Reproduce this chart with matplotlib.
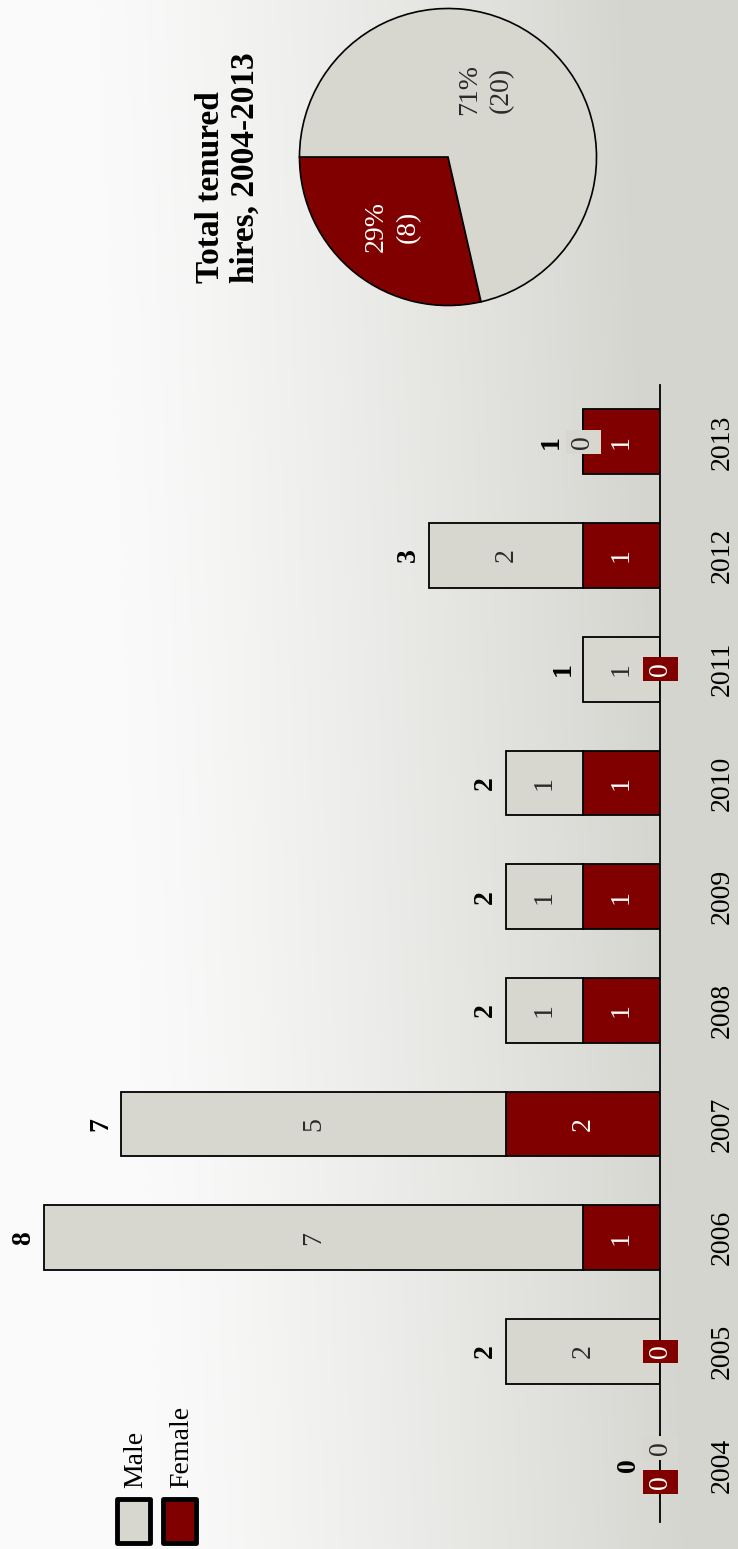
import numpy as np
import matplotlib.pyplot as plt
from matplotlib.patches import Rectangle

years = ["2004", "2005", "2006", "2007", "2008", "2009", "2010", "2011", "2012", "2013"]
female = [0, 0, 1, 2, 1, 1, 1, 0, 1, 1]
male = [0, 2, 7, 5, 1, 1, 1, 1, 2, 0]
pie_counts = [8, 20]          # female, male
pie_pct = ["29%", "71%"]

male_col = "#d7d7d0"
female_col = "#800000"

plt.rcParams["font.family"] = ["Liberation Serif", "DejaVu Serif"]

W, H = 738, 1549
fig = plt.figure(figsize=(W / 100, H / 100), dpi=100)

# grey gradient background, white on the left fading to grey on the right
bg = fig.add_axes([0, 0, 1, 1], zorder=-10)
xx, yy = np.meshgrid(np.linspace(0, 1, 300), np.linspace(1, 0, 600))
t = np.clip((xx - 0.22) / 0.72 + 0.12 * yy, 0, 1) ** 1.2
c0 = np.array([250, 250, 250]) / 255
c1 = np.array([213, 213, 208]) / 255
img = c0 + (c1 - c0) * t[..., None]
bg.imshow(img, aspect="auto", extent=[0, 1, 0, 1], interpolation="bilinear")
bg.axis("off")

fs = 20

# stacked bars, drawn sideways so the value grows to the left
ax = fig.add_axes([10 / W, 1 - 1522 / H, 650 / W, (1522 - 385) / H])
ax.patch.set_alpha(0)
pos = np.arange(len(years))
ax.barh(pos, female, height=0.57, color=female_col, edgecolor="black", linewidth=1.3)
ax.barh(pos, male, left=female, height=0.57, color=male_col, edgecolor="black", linewidth=1.3)
ax.set_xlim(0, 650 / 77)
ax.invert_xaxis()
ax.set_ylim(-0.5, len(years) - 0.5)
for s in ["left", "top", "bottom"]:
    ax.spines[s].set_visible(False)
ax.spines["right"].set_linewidth(1.3)
ax.set_xticks([])
ax.yaxis.tick_right()
ax.set_yticks(pos)
ax.set_yticklabels(years, rotation=90, va="center", ha="left", fontsize=fs)
ax.tick_params(axis="y", length=0, pad=36)

box = dict(boxstyle="square,pad=0.18", ec="none")
for i in pos:
    f, m = female[i], male[i]
    both_zero = f == 0 and m == 0
    # female segment label
    if f > 0:
        ax.text(f / 2, i, str(f), rotation=90, ha="center", va="center", color="white", fontsize=fs)
    else:
        dy = -0.15 if both_zero else 0
        ax.text(0, i + dy, "0", rotation=90, ha="center", va="center", color="white", fontsize=fs,
                bbox=dict(box, fc=female_col))
    # male segment label
    if m > 0:
        ax.text(f + m / 2, i, str(m), rotation=90, ha="center", va="center", color="#2a2a2a", fontsize=fs)
    else:
        dy = 0.15 if both_zero else 0
        ax.text(f, i + dy, "0", rotation=90, ha="center", va="center", color="#2a2a2a", fontsize=fs,
                bbox=dict(box, fc=male_col))
    # total above the bar
    tot = f + m
    gap = 0.1 if tot > 0 and not (m == 0) else 0.25
    ax.text(tot + gap, i, str(tot), rotation=90, ha="right", va="center",
            fontsize=fs, fontweight="bold")

# pie of the totals
pax = fig.add_axes([298 / W, 1 - 307 / H, 300 / W, 300 / H])
pax.patch.set_alpha(0)
wedges, _ = pax.pie(pie_counts, colors=[female_col, male_col], startangle=180, counterclock=True,
                    wedgeprops=dict(edgecolor="black", linewidth=1.2))
for w, n, p, col, d in zip(wedges, pie_counts, pie_pct, ["white", "#2a2a2a"], [0.6, 0.52]):
    ang = np.deg2rad((w.theta1 + w.theta2) / 2)
    if n == 20:
        ang = np.deg2rad(61)
    pax.text(d * np.cos(ang), d * np.sin(ang), f"{p}\n({n})", rotation=90, ha="center", va="center",
             color=col, fontsize=fs, linespacing=1.35)
pax.set_xlim(-1.01, 1.01)
pax.set_ylim(-1.01, 1.01)
pax.set_aspect("equal")
pax.axis("off")

fig.text(228 / W, 1 - 283 / H, "Total tenured\nhires, 2004-2013", rotation=90, ha="center", va="bottom",
         multialignment="left", fontsize=24, fontweight="bold", linespacing=1.15)

# legend, drawn by hand so it can sit rotated like the rest
for x0, lab, col in [(117, "Male", male_col), (163, "Female", female_col)]:
    fig.patches.append(Rectangle((x0 / W, 1 - 1543 / H), 33 / W, 44 / H, transform=fig.transFigure,
                                 facecolor=col, edgecolor="black", linewidth=3.5, joinstyle="round"))
    fig.text((x0 + 19) / W, 1 - 1488 / H, lab, rotation=90, ha="center", va="bottom", fontsize=fs)

fig.savefig("out.png", dpi=100)
